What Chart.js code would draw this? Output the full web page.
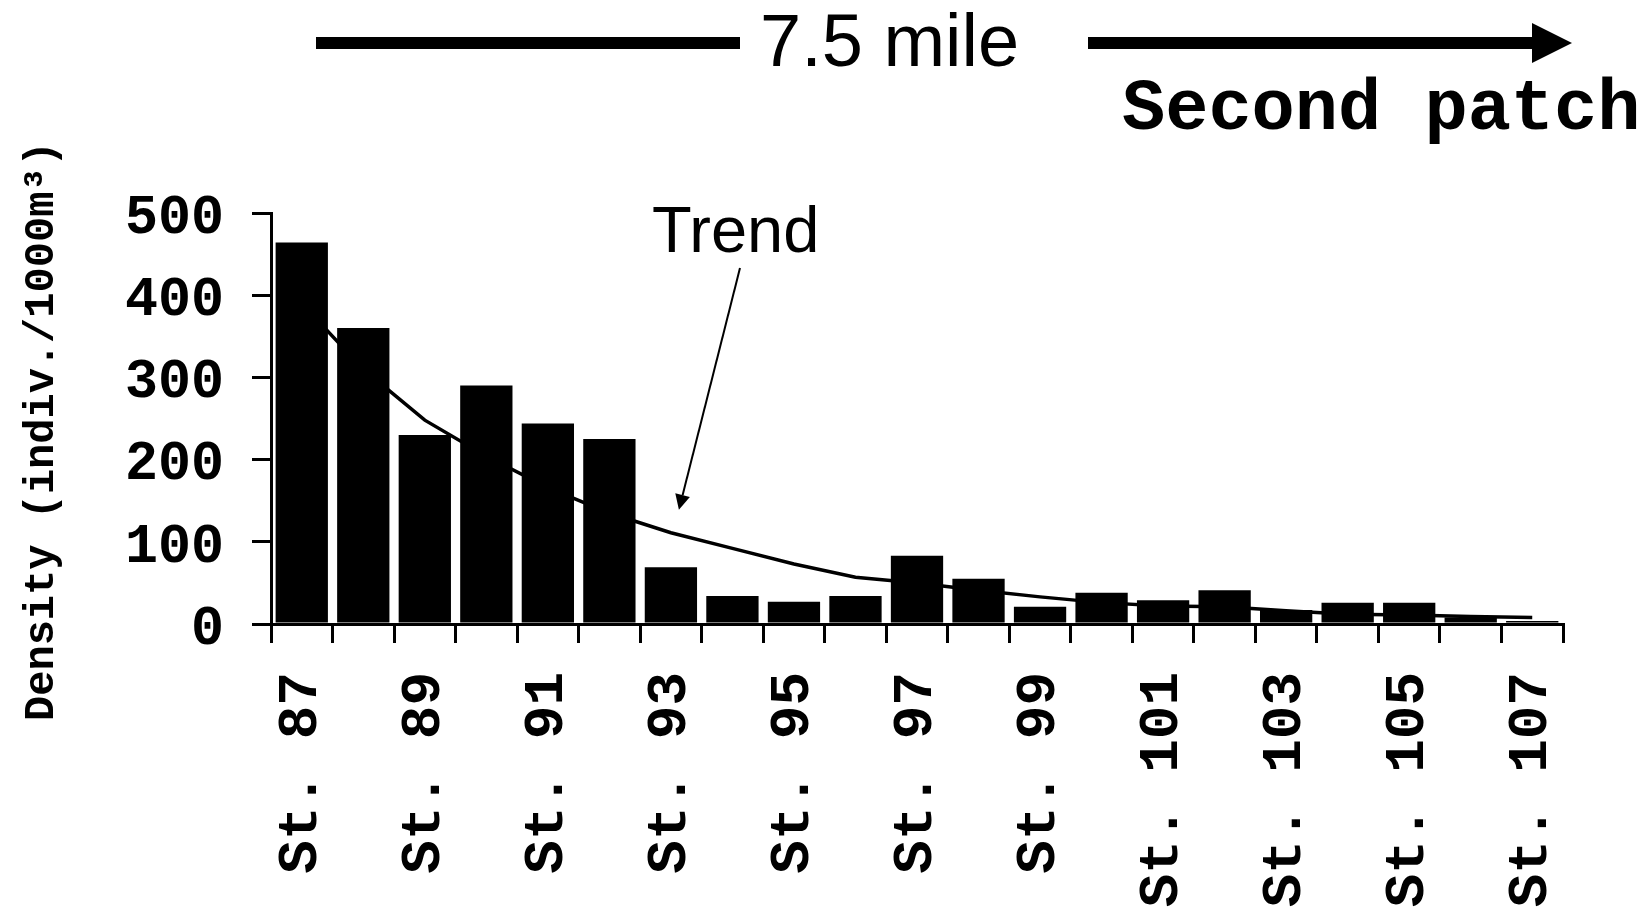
<!DOCTYPE html>
<html>

<head>
    <title>Density by station</title>
    <script src="https://cdn.jsdelivr.net/npm/chart.js"></script>
    <style>
        body {
            background-color: #fff;
            margin: 0;
            padding: 0;
        }

        .chart-container {
            position: relative;
            width: 1649px;
            height: 908px;
        }
    </style>
</head>

<body>
    <div class="chart-container">
        <canvas id="densityChart"></canvas>
    </div>

    <script>
        // Stations along the transect
        const stations = ['St. 87', 'St. 88', 'St. 89', 'St. 90', 'St. 91', 'St. 92', 'St. 93',
            'St. 94', 'St. 95', 'St. 96', 'St. 97', 'St. 98', 'St. 99', 'St. 100',
            'St. 101', 'St. 102', 'St. 103', 'St. 104', 'St. 105', 'St. 106', 'St. 107'];

        // Density (indiv./1000m3) per station
        const density = [464, 360, 230, 290, 244, 225, 69, 34, 27, 34, 83,
            55, 21, 38, 29, 41, 17, 26, 26, 8, 3.5];

        // Trend line read at each station
        const trend = [390, 310, 248, 204, 166, 135, 111, 92, 73, 57, 50,
            41, 33, 26, 22, 21, 16, 12, 11, 9, 8];

        const yTicks = [0, 100, 200, 300, 400, 500];

        const ctx = document.getElementById('densityChart').getContext('2d');

        // Text and arrows drawn above the plot
        const annotations = {
            id: 'annotations',
            afterDraw(chart) {
                const c = chart.ctx;
                const x = chart.scales.x;
                const y = chart.scales.y;
                c.save();
                c.fillStyle = '#000';
                c.strokeStyle = '#000';

                // 7.5 mile arrow
                c.lineWidth = 12;
                c.beginPath();
                c.moveTo(316, 43);
                c.lineTo(740, 43);
                c.moveTo(1088, 43);
                c.lineTo(1534, 43);
                c.stroke();
                c.beginPath();
                c.moveTo(1532, 23);
                c.lineTo(1572, 43);
                c.lineTo(1532, 63);
                c.closePath();
                c.fill();

                c.font = '74px "Liberation Sans", Arial, sans-serif';
                c.textBaseline = 'alphabetic';
                c.textAlign = 'left';
                c.fillText('7.5 mile', 760, 66);

                c.font = 'bold 72px "Liberation Mono", "Courier New", monospace';
                c.fillText('Second patch', 1122, 129);

                // Trend label and pointer
                c.font = '65px "Liberation Sans", Arial, sans-serif';
                c.fillText('Trend', 652, 252);

                const step = x.getPixelForValue(1) - x.getPixelForValue(0);
                const tipX = x.getPixelForValue(6) + 0.13 * step;
                const tipY = y.getPixelForValue(139);
                const fromX = 740, fromY = 268;
                const ang = Math.atan2(tipY - fromY, tipX - fromX);
                const headLen = 15, headW = 7.5;
                c.lineWidth = 2;
                c.beginPath();
                c.moveTo(fromX, fromY);
                c.lineTo(tipX - Math.cos(ang) * headLen, tipY - Math.sin(ang) * headLen);
                c.stroke();
                c.beginPath();
                c.moveTo(tipX, tipY);
                c.lineTo(tipX - Math.cos(ang) * headLen - Math.sin(ang) * headW,
                    tipY - Math.sin(ang) * headLen + Math.cos(ang) * headW);
                c.lineTo(tipX - Math.cos(ang) * headLen + Math.sin(ang) * headW,
                    tipY - Math.sin(ang) * headLen - Math.cos(ang) * headW);
                c.closePath();
                c.fill();
                c.restore();
            }
        };

        const densityChart = new Chart(ctx, {
            type: 'bar',
            data: {
                labels: stations,
                datasets: [{
                    type: 'bar',
                    label: 'Density',
                    data: density,
                    backgroundColor: '#000',
                    borderWidth: 0,
                    barPercentage: 0.85,
                    categoryPercentage: 1,
                    order: 1
                }, {
                    type: 'line',
                    label: 'Trend',
                    data: trend,
                    borderColor: '#000',
                    borderWidth: 3.5,
                    pointRadius: 0,
                    tension: 0,
                    fill: false,
                    order: 2
                }]
            },
            options: {
                responsive: true,
                maintainAspectRatio: false,
                animation: false,
                layout: {
                    padding: { top: 213, right: 86, left: 0, bottom: 0 }
                },
                plugins: {
                    legend: { display: false },
                    tooltip: { enabled: false }
                },
                scales: {
                    x: {
                        offset: true,
                        grid: {
                            offset: true,
                            drawOnChartArea: false,
                            tickLength: 19,
                            color: '#000',
                            lineWidth: 3
                        },
                        border: { color: '#000', width: 3 },
                        ticks: {
                            autoSkip: false,
                            minRotation: 90,
                            maxRotation: 90,
                            padding: 29,
                            color: '#000',
                            font: { family: '"Liberation Mono", "Courier New", monospace', size: 56, weight: 'bold' },
                            callback: function (val, idx) {
                                return idx % 2 === 0 ? this.getLabelForValue(val) : '';
                            }
                        },
                        afterFit: function (scale) {
                            scale.height = 284;
                        }
                    },
                    y: {
                        min: 0,
                        max: 500,
                        afterBuildTicks: function (scale) {
                            scale.ticks = yTicks.map(v => ({ value: v }));
                        },
                        grid: {
                            drawOnChartArea: false,
                            tickLength: 19,
                            color: '#000',
                            lineWidth: 3
                        },
                        border: { color: '#000', width: 3 },
                        ticks: {
                            padding: 28,
                            labelOffset: 6,
                            color: '#000',
                            font: { family: '"Liberation Mono", "Courier New", monospace', size: 55, weight: 'bold' }
                        },
                        title: {
                            display: true,
                            text: 'Density (indiv./1000m\u00b3) ',
                            color: '#000',
                            padding: { top: 21, bottom: 0 },
                            font: { family: '"Liberation Mono", "Courier New", monospace', size: 42, weight: 'bold', lineHeight: 1 }
                        },
                        afterFit: function (scale) {
                            scale.width = 271;
                        }
                    }
                }
            },
            plugins: [annotations]
        });
    </script>
</body>

</html>
